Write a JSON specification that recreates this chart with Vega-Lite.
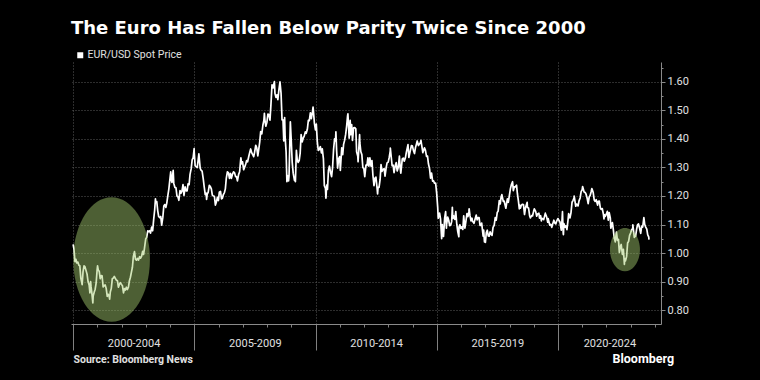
{
  "$schema": "https://vega.github.io/schema/vega-lite/v6.json",
  "width": 590,
  "height": 262,
  "autosize": {"type": "none"},
  "padding": {"left": 71, "top": 62, "right": 99, "bottom": 56},
  "background": "#000000",
  "config": {"view": {"stroke": null}},
  "title": {"text": "The Euro Has Fallen Below Parity Twice Since 2000", "anchor": "start", "frame": "group", "font": "DejaVu Sans", "fontSize": 18, "fontWeight": "bold", "color": "#ffffff", "offset": 12},
  "datasets": {
    "fx": [
      {"date":"2000-01-03","value":1.030},{"date":"2000-01-15","value":1.015},{"date":"2000-01-31","value":0.970},
      {"date":"2000-02-14","value":0.978},{"date":"2000-02-28","value":0.965},
      {"date":"2000-03-15","value":0.968},{"date":"2000-03-30","value":0.957},
      {"date":"2000-04-13","value":0.955},{"date":"2000-04-28","value":0.912},
      {"date":"2000-05-18","value":0.889},{"date":"2000-05-31","value":0.934},
      {"date":"2000-06-15","value":0.955},{"date":"2000-06-29","value":0.952},
      {"date":"2000-07-14","value":0.940},{"date":"2000-07-31","value":0.926},
      {"date":"2000-08-15","value":0.900},{"date":"2000-08-31","value":0.888},
      {"date":"2000-09-12","value":0.860},{"date":"2000-09-22","value":0.900},{"date":"2000-09-29","value":0.882},
      {"date":"2000-10-13","value":0.856},{"date":"2000-10-26","value":0.825},{"date":"2000-10-31","value":0.849},
      {"date":"2000-11-15","value":0.862},{"date":"2000-11-30","value":0.873},
      {"date":"2000-12-15","value":0.895},{"date":"2000-12-29","value":0.939},
      {"date":"2001-01-05","value":0.955},{"date":"2001-01-15","value":0.941},{"date":"2001-01-31","value":0.935},
      {"date":"2001-02-14","value":0.910},{"date":"2001-02-28","value":0.921},
      {"date":"2001-03-14","value":0.920},{"date":"2001-03-30","value":0.881},
      {"date":"2001-04-13","value":0.885},{"date":"2001-04-30","value":0.888},
      {"date":"2001-05-15","value":0.876},{"date":"2001-05-31","value":0.848},
      {"date":"2001-06-15","value":0.855},{"date":"2001-06-29","value":0.848},
      {"date":"2001-07-06","value":0.838},{"date":"2001-07-16","value":0.863},{"date":"2001-07-31","value":0.876},
      {"date":"2001-08-15","value":0.910},{"date":"2001-08-31","value":0.912},
      {"date":"2001-09-14","value":0.918},{"date":"2001-09-28","value":0.912},
      {"date":"2001-10-15","value":0.905},{"date":"2001-10-31","value":0.903},
      {"date":"2001-11-15","value":0.880},{"date":"2001-11-30","value":0.890},
      {"date":"2001-12-14","value":0.896},{"date":"2001-12-31","value":0.890},
      {"date":"2002-01-15","value":0.885},{"date":"2002-01-31","value":0.860},
      {"date":"2002-02-15","value":0.875},{"date":"2002-02-28","value":0.870},
      {"date":"2002-03-15","value":0.880},{"date":"2002-03-29","value":0.872},
      {"date":"2002-04-15","value":0.880},{"date":"2002-04-30","value":0.903},
      {"date":"2002-05-15","value":0.915},{"date":"2002-05-31","value":0.934},
      {"date":"2002-06-14","value":0.950},{"date":"2002-06-28","value":0.987},
      {"date":"2002-07-15","value":1.005},{"date":"2002-07-31","value":0.978},
      {"date":"2002-08-15","value":0.975},{"date":"2002-08-30","value":0.981},
      {"date":"2002-09-13","value":0.975},{"date":"2002-09-30","value":0.987},
      {"date":"2002-10-15","value":0.982},{"date":"2002-10-31","value":0.989},
      {"date":"2002-11-15","value":1.006},{"date":"2002-11-29","value":0.995},
      {"date":"2002-12-13","value":1.017},{"date":"2002-12-31","value":1.049},
      {"date":"2003-01-15","value":1.055},{"date":"2003-01-31","value":1.078},
      {"date":"2003-02-14","value":1.075},{"date":"2003-02-28","value":1.078},
      {"date":"2003-03-14","value":1.070},{"date":"2003-03-31","value":1.091},
      {"date":"2003-04-15","value":1.078},{"date":"2003-04-30","value":1.117},
      {"date":"2003-05-15","value":1.150},{"date":"2003-05-27","value":1.190},{"date":"2003-05-30","value":1.181},
      {"date":"2003-06-16","value":1.180},{"date":"2003-06-30","value":1.149},
      {"date":"2003-07-15","value":1.128},{"date":"2003-07-31","value":1.124},
      {"date":"2003-08-15","value":1.128},{"date":"2003-08-29","value":1.098},
      {"date":"2003-09-15","value":1.125},{"date":"2003-09-30","value":1.165},
      {"date":"2003-10-15","value":1.170},{"date":"2003-10-31","value":1.160},
      {"date":"2003-11-14","value":1.175},{"date":"2003-11-28","value":1.199},
      {"date":"2003-12-15","value":1.225},{"date":"2003-12-31","value":1.259},
      {"date":"2004-01-12","value":1.285},{"date":"2004-01-23","value":1.255},{"date":"2004-01-30","value":1.248},
      {"date":"2004-02-18","value":1.290},{"date":"2004-02-27","value":1.245},
      {"date":"2004-03-15","value":1.230},{"date":"2004-03-31","value":1.229},
      {"date":"2004-04-15","value":1.200},{"date":"2004-04-30","value":1.197},
      {"date":"2004-05-14","value":1.185},{"date":"2004-05-31","value":1.219},
      {"date":"2004-06-15","value":1.210},{"date":"2004-06-30","value":1.218},
      {"date":"2004-07-15","value":1.240},{"date":"2004-07-30","value":1.202},
      {"date":"2004-08-16","value":1.232},{"date":"2004-08-31","value":1.218},
      {"date":"2004-09-15","value":1.218},{"date":"2004-09-30","value":1.243},
      {"date":"2004-10-15","value":1.240},{"date":"2004-10-29","value":1.276},
      {"date":"2004-11-15","value":1.295},{"date":"2004-11-30","value":1.327},
      {"date":"2004-12-15","value":1.335},{"date":"2004-12-30","value":1.366},{"date":"2004-12-31","value":1.356},
      {"date":"2005-01-14","value":1.306},{"date":"2005-01-31","value":1.303},
      {"date":"2005-02-15","value":1.300},{"date":"2005-02-28","value":1.325},
      {"date":"2005-03-11","value":1.348},{"date":"2005-03-31","value":1.297},
      {"date":"2005-04-15","value":1.290},{"date":"2005-04-29","value":1.287},
      {"date":"2005-05-16","value":1.260},{"date":"2005-05-31","value":1.231},
      {"date":"2005-06-15","value":1.205},{"date":"2005-06-30","value":1.210},
      {"date":"2005-07-05","value":1.188},{"date":"2005-07-15","value":1.207},{"date":"2005-07-29","value":1.213},
      {"date":"2005-08-15","value":1.237},{"date":"2005-08-31","value":1.233},
      {"date":"2005-09-15","value":1.225},{"date":"2005-09-30","value":1.203},
      {"date":"2005-10-14","value":1.200},{"date":"2005-10-31","value":1.199},
      {"date":"2005-11-15","value":1.168},{"date":"2005-11-30","value":1.179},
      {"date":"2005-12-15","value":1.195},{"date":"2005-12-30","value":1.184},
      {"date":"2006-01-13","value":1.213},{"date":"2006-01-31","value":1.216},
      {"date":"2006-02-15","value":1.190},{"date":"2006-02-28","value":1.192},
      {"date":"2006-03-15","value":1.205},{"date":"2006-03-31","value":1.212},
      {"date":"2006-04-14","value":1.225},{"date":"2006-04-28","value":1.262},
      {"date":"2006-05-15","value":1.285},{"date":"2006-05-31","value":1.281},
      {"date":"2006-06-15","value":1.262},{"date":"2006-06-30","value":1.279},
      {"date":"2006-07-14","value":1.262},{"date":"2006-07-31","value":1.277},
      {"date":"2006-08-15","value":1.285},{"date":"2006-08-31","value":1.281},
      {"date":"2006-09-15","value":1.268},{"date":"2006-09-29","value":1.268},
      {"date":"2006-10-13","value":1.253},{"date":"2006-10-31","value":1.276},
      {"date":"2006-11-15","value":1.285},{"date":"2006-11-30","value":1.325},
      {"date":"2006-12-04","value":1.334},{"date":"2006-12-15","value":1.313},{"date":"2006-12-29","value":1.320},
      {"date":"2007-01-15","value":1.292},{"date":"2007-01-31","value":1.302},
      {"date":"2007-02-15","value":1.312},{"date":"2007-02-28","value":1.324},
      {"date":"2007-03-15","value":1.320},{"date":"2007-03-30","value":1.336},
      {"date":"2007-04-16","value":1.353},{"date":"2007-04-30","value":1.365},
      {"date":"2007-05-15","value":1.352},{"date":"2007-05-31","value":1.345},
      {"date":"2007-06-15","value":1.338},{"date":"2007-06-29","value":1.354},
      {"date":"2007-07-16","value":1.378},{"date":"2007-07-31","value":1.369},
      {"date":"2007-08-16","value":1.341},{"date":"2007-08-31","value":1.365},
      {"date":"2007-09-14","value":1.390},{"date":"2007-09-28","value":1.426},
      {"date":"2007-10-15","value":1.418},{"date":"2007-10-31","value":1.448},
      {"date":"2007-11-15","value":1.465},{"date":"2007-11-23","value":1.490},{"date":"2007-11-30","value":1.468},
      {"date":"2007-12-14","value":1.445},{"date":"2007-12-31","value":1.459},
      {"date":"2008-01-15","value":1.487},{"date":"2008-01-31","value":1.486},
      {"date":"2008-02-15","value":1.466},{"date":"2008-02-29","value":1.518},
      {"date":"2008-03-17","value":1.590},{"date":"2008-03-31","value":1.579},
      {"date":"2008-04-22","value":1.601},{"date":"2008-04-30","value":1.560},
      {"date":"2008-05-15","value":1.546},{"date":"2008-05-30","value":1.555},
      {"date":"2008-06-13","value":1.538},{"date":"2008-06-30","value":1.575},
      {"date":"2008-07-15","value":1.600},{"date":"2008-07-31","value":1.560},
      {"date":"2008-08-15","value":1.467},{"date":"2008-08-29","value":1.467},
      {"date":"2008-09-10","value":1.393},{"date":"2008-09-23","value":1.475},{"date":"2008-09-30","value":1.409},
      {"date":"2008-10-15","value":1.355},{"date":"2008-10-27","value":1.250},{"date":"2008-10-31","value":1.272},
      {"date":"2008-11-14","value":1.270},{"date":"2008-11-21","value":1.253},{"date":"2008-11-28","value":1.270},
      {"date":"2008-12-18","value":1.460},{"date":"2008-12-31","value":1.397},
      {"date":"2009-01-15","value":1.318},{"date":"2009-01-30","value":1.280},
      {"date":"2009-02-18","value":1.255},{"date":"2009-02-27","value":1.266},
      {"date":"2009-03-04","value":1.250},{"date":"2009-03-19","value":1.360},{"date":"2009-03-31","value":1.328},
      {"date":"2009-04-15","value":1.318},{"date":"2009-04-30","value":1.324},
      {"date":"2009-05-15","value":1.350},{"date":"2009-05-29","value":1.415},
      {"date":"2009-06-15","value":1.390},{"date":"2009-06-30","value":1.403},
      {"date":"2009-07-15","value":1.410},{"date":"2009-07-31","value":1.425},
      {"date":"2009-08-14","value":1.420},{"date":"2009-08-31","value":1.434},
      {"date":"2009-09-15","value":1.465},{"date":"2009-09-30","value":1.464},
      {"date":"2009-10-15","value":1.492},{"date":"2009-10-30","value":1.471},
      {"date":"2009-11-16","value":1.495},{"date":"2009-11-25","value":1.512},{"date":"2009-11-30","value":1.500},
      {"date":"2009-12-15","value":1.456},{"date":"2009-12-31","value":1.432},
      {"date":"2010-01-13","value":1.452},{"date":"2010-01-29","value":1.387},
      {"date":"2010-02-12","value":1.360},{"date":"2010-02-26","value":1.363},
      {"date":"2010-03-15","value":1.373},{"date":"2010-03-31","value":1.351},
      {"date":"2010-04-13","value":1.365},{"date":"2010-04-30","value":1.330},
      {"date":"2010-05-14","value":1.236},{"date":"2010-05-31","value":1.227},
      {"date":"2010-06-07","value":1.192},{"date":"2010-06-18","value":1.238},{"date":"2010-06-30","value":1.223},
      {"date":"2010-07-15","value":1.290},{"date":"2010-07-30","value":1.305},
      {"date":"2010-08-16","value":1.282},{"date":"2010-08-31","value":1.268},
      {"date":"2010-09-15","value":1.300},{"date":"2010-09-30","value":1.363},
      {"date":"2010-10-15","value":1.400},{"date":"2010-10-29","value":1.393},
      {"date":"2010-11-04","value":1.425},{"date":"2010-11-15","value":1.360},{"date":"2010-11-30","value":1.298},
      {"date":"2010-12-15","value":1.330},{"date":"2010-12-31","value":1.338},
      {"date":"2011-01-10","value":1.290},{"date":"2011-01-31","value":1.369},
      {"date":"2011-02-15","value":1.345},{"date":"2011-02-28","value":1.381},
      {"date":"2011-03-15","value":1.395},{"date":"2011-03-31","value":1.416},
      {"date":"2011-04-15","value":1.445},{"date":"2011-04-29","value":1.481},
      {"date":"2011-05-04","value":1.488},{"date":"2011-05-23","value":1.403},{"date":"2011-05-31","value":1.438},
      {"date":"2011-06-07","value":1.465},{"date":"2011-06-16","value":1.415},{"date":"2011-06-30","value":1.450},
      {"date":"2011-07-12","value":1.395},{"date":"2011-07-29","value":1.439},
      {"date":"2011-08-15","value":1.440},{"date":"2011-08-31","value":1.436},
      {"date":"2011-09-12","value":1.355},{"date":"2011-09-30","value":1.339},
      {"date":"2011-10-04","value":1.320},{"date":"2011-10-27","value":1.415},{"date":"2011-10-31","value":1.386},
      {"date":"2011-11-15","value":1.355},{"date":"2011-11-30","value":1.345},
      {"date":"2011-12-15","value":1.300},{"date":"2011-12-30","value":1.296},
      {"date":"2012-01-13","value":1.268},{"date":"2012-01-31","value":1.308},
      {"date":"2012-02-15","value":1.307},{"date":"2012-02-29","value":1.334},
      {"date":"2012-03-15","value":1.305},{"date":"2012-03-30","value":1.334},
      {"date":"2012-04-16","value":1.305},{"date":"2012-04-30","value":1.324},
      {"date":"2012-05-15","value":1.272},{"date":"2012-05-31","value":1.236},
      {"date":"2012-06-15","value":1.263},{"date":"2012-06-29","value":1.266},
      {"date":"2012-07-16","value":1.228},{"date":"2012-07-24","value":1.207},{"date":"2012-07-31","value":1.230},
      {"date":"2012-08-15","value":1.230},{"date":"2012-08-31","value":1.258},
      {"date":"2012-09-14","value":1.310},{"date":"2012-09-28","value":1.286},
      {"date":"2012-10-15","value":1.294},{"date":"2012-10-31","value":1.296},
      {"date":"2012-11-13","value":1.270},{"date":"2012-11-30","value":1.299},
      {"date":"2012-12-14","value":1.316},{"date":"2012-12-31","value":1.319},
      {"date":"2013-01-15","value":1.335},{"date":"2013-01-31","value":1.358},
      {"date":"2013-02-01","value":1.368},{"date":"2013-02-15","value":1.336},{"date":"2013-02-28","value":1.306},
      {"date":"2013-03-15","value":1.308},{"date":"2013-03-29","value":1.282},
      {"date":"2013-04-15","value":1.306},{"date":"2013-04-30","value":1.317},
      {"date":"2013-05-15","value":1.288},{"date":"2013-05-31","value":1.300},
      {"date":"2013-06-18","value":1.340},{"date":"2013-06-28","value":1.301},
      {"date":"2013-07-09","value":1.280},{"date":"2013-07-31","value":1.330},
      {"date":"2013-08-15","value":1.333},{"date":"2013-08-30","value":1.322},
      {"date":"2013-09-16","value":1.334},{"date":"2013-09-30","value":1.353},
      {"date":"2013-10-25","value":1.380},{"date":"2013-10-31","value":1.358},
      {"date":"2013-11-07","value":1.335},{"date":"2013-11-29","value":1.359},
      {"date":"2013-12-16","value":1.377},{"date":"2013-12-31","value":1.375},
      {"date":"2014-01-15","value":1.360},{"date":"2014-01-31","value":1.349},
      {"date":"2014-02-14","value":1.369},{"date":"2014-02-28","value":1.381},
      {"date":"2014-03-13","value":1.393},{"date":"2014-03-31","value":1.377},
      {"date":"2014-04-15","value":1.382},{"date":"2014-04-30","value":1.387},
      {"date":"2014-05-08","value":1.395},{"date":"2014-05-30","value":1.363},
      {"date":"2014-06-05","value":1.352},{"date":"2014-06-30","value":1.369},
      {"date":"2014-07-15","value":1.360},{"date":"2014-07-31","value":1.339},
      {"date":"2014-08-15","value":1.340},{"date":"2014-08-29","value":1.313},
      {"date":"2014-09-15","value":1.295},{"date":"2014-09-30","value":1.263},
      {"date":"2014-10-15","value":1.280},{"date":"2014-10-31","value":1.252},
      {"date":"2014-11-14","value":1.253},{"date":"2014-11-28","value":1.245},
      {"date":"2014-12-15","value":1.245},{"date":"2014-12-31","value":1.210},
      {"date":"2015-01-15","value":1.162},{"date":"2015-01-23","value":1.122},{"date":"2015-01-30","value":1.129},
      {"date":"2015-02-13","value":1.140},{"date":"2015-02-27","value":1.120},
      {"date":"2015-03-16","value":1.050},{"date":"2015-03-26","value":1.100},{"date":"2015-03-31","value":1.073},
      {"date":"2015-04-13","value":1.058},{"date":"2015-04-30","value":1.122},
      {"date":"2015-05-15","value":1.145},{"date":"2015-05-27","value":1.087},{"date":"2015-05-29","value":1.099},
      {"date":"2015-06-15","value":1.126},{"date":"2015-06-30","value":1.115},
      {"date":"2015-07-15","value":1.096},{"date":"2015-07-31","value":1.098},
      {"date":"2015-08-14","value":1.110},{"date":"2015-08-24","value":1.160},{"date":"2015-08-31","value":1.121},
      {"date":"2015-09-15","value":1.130},{"date":"2015-09-30","value":1.118},
      {"date":"2015-10-15","value":1.145},{"date":"2015-10-30","value":1.101},
      {"date":"2015-11-13","value":1.076},{"date":"2015-11-30","value":1.057},
      {"date":"2015-12-03","value":1.092},{"date":"2015-12-15","value":1.099},{"date":"2015-12-31","value":1.086},
      {"date":"2016-01-15","value":1.092},{"date":"2016-01-29","value":1.083},
      {"date":"2016-02-11","value":1.130},{"date":"2016-02-29","value":1.087},
      {"date":"2016-03-15","value":1.110},{"date":"2016-03-31","value":1.138},
      {"date":"2016-04-15","value":1.128},{"date":"2016-04-29","value":1.145},
      {"date":"2016-05-03","value":1.155},{"date":"2016-05-16","value":1.131},{"date":"2016-05-31","value":1.113},
      {"date":"2016-06-15","value":1.122},{"date":"2016-06-24","value":1.110},{"date":"2016-06-30","value":1.110},
      {"date":"2016-07-15","value":1.104},{"date":"2016-07-29","value":1.117},
      {"date":"2016-08-18","value":1.133},{"date":"2016-08-31","value":1.116},
      {"date":"2016-09-15","value":1.124},{"date":"2016-09-30","value":1.124},
      {"date":"2016-10-14","value":1.097},{"date":"2016-10-31","value":1.098},
      {"date":"2016-11-08","value":1.105},{"date":"2016-11-30","value":1.059},
      {"date":"2016-12-08","value":1.080},{"date":"2016-12-20","value":1.039},{"date":"2016-12-30","value":1.052},
      {"date":"2017-01-03","value":1.037},{"date":"2017-01-17","value":1.072},{"date":"2017-01-31","value":1.080},
      {"date":"2017-02-15","value":1.060},{"date":"2017-02-28","value":1.059},
      {"date":"2017-03-15","value":1.074},{"date":"2017-03-31","value":1.065},
      {"date":"2017-04-13","value":1.062},{"date":"2017-04-28","value":1.090},
      {"date":"2017-05-15","value":1.097},{"date":"2017-05-31","value":1.124},
      {"date":"2017-06-15","value":1.115},{"date":"2017-06-30","value":1.142},
      {"date":"2017-07-14","value":1.147},{"date":"2017-07-31","value":1.184},
      {"date":"2017-08-15","value":1.172},{"date":"2017-08-29","value":1.200},{"date":"2017-08-31","value":1.191},
      {"date":"2017-09-08","value":1.205},{"date":"2017-09-29","value":1.181},
      {"date":"2017-10-13","value":1.182},{"date":"2017-10-31","value":1.164},
      {"date":"2017-11-07","value":1.157},{"date":"2017-11-30","value":1.190},
      {"date":"2017-12-14","value":1.178},{"date":"2017-12-29","value":1.200},
      {"date":"2018-01-15","value":1.226},{"date":"2018-01-31","value":1.241},
      {"date":"2018-02-16","value":1.250},{"date":"2018-02-28","value":1.219},
      {"date":"2018-03-15","value":1.232},{"date":"2018-03-29","value":1.232},
      {"date":"2018-04-17","value":1.238},{"date":"2018-04-30","value":1.208},
      {"date":"2018-05-15","value":1.183},{"date":"2018-05-29","value":1.155},{"date":"2018-05-31","value":1.169},
      {"date":"2018-06-14","value":1.157},{"date":"2018-06-29","value":1.168},
      {"date":"2018-07-16","value":1.171},{"date":"2018-07-31","value":1.169},
      {"date":"2018-08-15","value":1.135},{"date":"2018-08-31","value":1.160},
      {"date":"2018-09-24","value":1.178},{"date":"2018-09-28","value":1.160},
      {"date":"2018-10-15","value":1.158},{"date":"2018-10-31","value":1.131},
      {"date":"2018-11-12","value":1.123},{"date":"2018-11-30","value":1.131},
      {"date":"2018-12-14","value":1.130},{"date":"2018-12-31","value":1.147},
      {"date":"2019-01-10","value":1.155},{"date":"2019-01-31","value":1.145},
      {"date":"2019-02-15","value":1.129},{"date":"2019-02-28","value":1.137},
      {"date":"2019-03-20","value":1.140},{"date":"2019-03-29","value":1.122},
      {"date":"2019-04-15","value":1.131},{"date":"2019-04-26","value":1.113},{"date":"2019-04-30","value":1.122},
      {"date":"2019-05-15","value":1.120},{"date":"2019-05-31","value":1.117},
      {"date":"2019-06-25","value":1.140},{"date":"2019-06-28","value":1.137},
      {"date":"2019-07-15","value":1.126},{"date":"2019-07-31","value":1.108},
      {"date":"2019-08-06","value":1.121},{"date":"2019-08-30","value":1.098},
      {"date":"2019-09-16","value":1.100},{"date":"2019-09-30","value":1.090},
      {"date":"2019-10-15","value":1.103},{"date":"2019-10-31","value":1.115},
      {"date":"2019-11-15","value":1.105},{"date":"2019-11-29","value":1.102},
      {"date":"2019-12-13","value":1.112},{"date":"2019-12-31","value":1.121},
      {"date":"2020-01-15","value":1.115},{"date":"2020-01-31","value":1.109},
      {"date":"2020-02-20","value":1.080},{"date":"2020-02-28","value":1.103},
      {"date":"2020-03-09","value":1.145},{"date":"2020-03-20","value":1.070},{"date":"2020-03-23","value":1.064},{"date":"2020-03-31","value":1.103},
      {"date":"2020-04-15","value":1.091},{"date":"2020-04-30","value":1.095},
      {"date":"2020-05-15","value":1.082},{"date":"2020-05-29","value":1.110},
      {"date":"2020-06-10","value":1.138},{"date":"2020-06-30","value":1.123},
      {"date":"2020-07-15","value":1.141},{"date":"2020-07-31","value":1.178},
      {"date":"2020-08-14","value":1.184},{"date":"2020-08-31","value":1.194},
      {"date":"2020-09-01","value":1.200},{"date":"2020-09-25","value":1.164},{"date":"2020-09-30","value":1.172},
      {"date":"2020-10-15","value":1.171},{"date":"2020-10-30","value":1.165},
      {"date":"2020-11-13","value":1.183},{"date":"2020-11-30","value":1.193},
      {"date":"2020-12-15","value":1.215},{"date":"2020-12-31","value":1.222},
      {"date":"2021-01-06","value":1.233},{"date":"2021-01-29","value":1.214},
      {"date":"2021-02-15","value":1.212},{"date":"2021-02-26","value":1.207},
      {"date":"2021-03-15","value":1.193},{"date":"2021-03-31","value":1.173},
      {"date":"2021-04-15","value":1.196},{"date":"2021-04-30","value":1.202},
      {"date":"2021-05-14","value":1.214},{"date":"2021-05-25","value":1.226},{"date":"2021-05-31","value":1.223},
      {"date":"2021-06-15","value":1.212},{"date":"2021-06-30","value":1.186},
      {"date":"2021-07-15","value":1.181},{"date":"2021-07-30","value":1.187},
      {"date":"2021-08-20","value":1.168},{"date":"2021-08-31","value":1.181},
      {"date":"2021-09-15","value":1.182},{"date":"2021-09-30","value":1.158},
      {"date":"2021-10-12","value":1.153},{"date":"2021-10-29","value":1.156},
      {"date":"2021-11-15","value":1.137},{"date":"2021-11-24","value":1.120},{"date":"2021-11-30","value":1.134},
      {"date":"2021-12-15","value":1.129},{"date":"2021-12-31","value":1.137},
      {"date":"2022-01-14","value":1.146},{"date":"2022-01-28","value":1.115},{"date":"2022-01-31","value":1.123},
      {"date":"2022-02-10","value":1.142},{"date":"2022-02-28","value":1.122},
      {"date":"2022-03-07","value":1.087},{"date":"2022-03-31","value":1.107},
      {"date":"2022-04-14","value":1.082},{"date":"2022-04-28","value":1.050},{"date":"2022-04-29","value":1.054},
      {"date":"2022-05-13","value":1.039},{"date":"2022-05-31","value":1.073},
      {"date":"2022-06-15","value":1.044},{"date":"2022-06-30","value":1.048},
      {"date":"2022-07-14","value":1.002},{"date":"2022-07-29","value":1.022},
      {"date":"2022-08-10","value":1.030},{"date":"2022-08-29","value":0.995},{"date":"2022-08-31","value":1.005},
      {"date":"2022-09-12","value":1.013},{"date":"2022-09-28","value":0.960},{"date":"2022-09-30","value":0.980},
      {"date":"2022-10-13","value":0.972},{"date":"2022-10-31","value":0.988},
      {"date":"2022-11-15","value":1.035},{"date":"2022-11-30","value":1.041},
      {"date":"2022-12-15","value":1.062},{"date":"2022-12-30","value":1.070},
      {"date":"2023-01-16","value":1.082},{"date":"2023-01-31","value":1.086},
      {"date":"2023-02-02","value":1.099},{"date":"2023-02-24","value":1.055},{"date":"2023-02-28","value":1.058},
      {"date":"2023-03-15","value":1.058},{"date":"2023-03-31","value":1.084},
      {"date":"2023-04-14","value":1.099},{"date":"2023-04-28","value":1.102},
      {"date":"2023-05-15","value":1.087},{"date":"2023-05-31","value":1.069},
      {"date":"2023-06-15","value":1.094},{"date":"2023-06-30","value":1.091},
      {"date":"2023-07-18","value":1.124},{"date":"2023-07-31","value":1.100},
      {"date":"2023-08-15","value":1.091},{"date":"2023-08-31","value":1.084},
      {"date":"2023-09-14","value":1.064},{"date":"2023-09-29","value":1.057},
      {"date":"2023-10-03","value":1.047}
    ]
  },
  "encoding": {
    "x": {
      "field": "date",
      "type": "temporal",
      "scale": {"type": "utc", "domain": [{"year": 1999, "month": 12, "date": 2, "utc": true}, {"year": 2024, "month": 4, "date": 1, "utc": true}]},
      "axis": {
        "values": [
          {"year": 2000, "month": 1, "date": 1, "utc": true}, {"year": 2001, "month": 1, "date": 1, "utc": true}, {"year": 2002, "month": 1, "date": 1, "utc": true}, {"year": 2003, "month": 1, "date": 1, "utc": true}, {"year": 2004, "month": 1, "date": 1, "utc": true},
          {"year": 2005, "month": 1, "date": 1, "utc": true}, {"year": 2006, "month": 1, "date": 1, "utc": true}, {"year": 2007, "month": 1, "date": 1, "utc": true}, {"year": 2008, "month": 1, "date": 1, "utc": true}, {"year": 2009, "month": 1, "date": 1, "utc": true},
          {"year": 2010, "month": 1, "date": 1, "utc": true}, {"year": 2011, "month": 1, "date": 1, "utc": true}, {"year": 2012, "month": 1, "date": 1, "utc": true}, {"year": 2013, "month": 1, "date": 1, "utc": true}, {"year": 2014, "month": 1, "date": 1, "utc": true},
          {"year": 2015, "month": 1, "date": 1, "utc": true}, {"year": 2016, "month": 1, "date": 1, "utc": true}, {"year": 2017, "month": 1, "date": 1, "utc": true}, {"year": 2018, "month": 1, "date": 1, "utc": true}, {"year": 2019, "month": 1, "date": 1, "utc": true},
          {"year": 2020, "month": 1, "date": 1, "utc": true}, {"year": 2021, "month": 1, "date": 1, "utc": true}, {"year": 2022, "month": 1, "date": 1, "utc": true}, {"year": 2023, "month": 1, "date": 1, "utc": true}, {"year": 2024, "month": 1, "date": 1, "utc": true},
          {"year": 2002, "month": 7, "date": 2, "utc": true}, {"year": 2007, "month": 7, "date": 2, "utc": true}, {"year": 2012, "month": 7, "date": 2, "utc": true}, {"year": 2017, "month": 7, "date": 2, "utc": true}, {"year": 2022, "month": 2, "date": 14, "utc": true}
        ],
        "labelExpr": "utcdate(datum.value) == 1 ? '' : (floor(utcyear(datum.value) / 5) * 5) + '-' + (floor(utcyear(datum.value) / 5) * 5 + 4)",
        "tickSize": {"condition": {"test": "utcdate(datum.value) == 1 && utcmonth(datum.value) == 0 && utcyear(datum.value) % 5 == 0", "value": 26}, "value": 3},
        "tickOpacity": {"condition": {"test": "utcdate(datum.value) != 1", "value": 0}, "value": 1},
        "tickColor": "#808080",
        "grid": true,
        "gridOpacity": {"condition": {"test": "utcdate(datum.value) == 1 && utcmonth(datum.value) == 0 && utcyear(datum.value) % 5 == 0", "value": 1}, "value": 0},
        "gridColor": "#5a5a5a",
        "gridDash": [1, 2],
        "domainColor": "#8a8a8a",
        "labelColor": "#e0e0e0",
        "labelFont": "Roboto",
        "labelFontSize": 11,
        "labelPadding": 10,
        "labelBaseline": "top",
        "labelFlush": false,
        "labelOverlap": false,
        "labelBound": false,
        "title": "Source: Bloomberg News",
        "titleFont": "Roboto",
        "titleFontSize": 10.5,
        "titleFontWeight": "bold",
        "titleColor": "#e0e0e0",
        "titleAnchor": "start",
        "titleAlign": "left",
        "titleBaseline": "alphabetic",
        "titleX": 2,
        "titleY": 38
      }
    },
    "y": {
      "field": "value",
      "type": "quantitative",
      "scale": {"domain": [0.751, 1.67], "zero": false, "nice": false},
      "axis": {
        "orient": "right",
        "values": [0.8, 0.85, 0.9, 0.95, 1.0, 1.05, 1.1, 1.15, 1.2, 1.25, 1.3, 1.35, 1.4, 1.45, 1.5, 1.55, 1.6, 1.65],
        "labelExpr": "round(datum.value * 100) % 10 == 0 ? format(datum.value, '.2f') : ''",
        "tickSize": {"condition": {"test": "round(datum.value * 100) % 10 == 0", "value": 4}, "value": 2},
        "grid": true,
        "gridOpacity": {"condition": {"test": "round(datum.value * 100) % 10 == 0", "value": 1}, "value": 0},
        "gridColor": "#5a5a5a",
        "gridDash": [1, 2],
        "tickColor": "#8a8a8a",
        "domainColor": "#8a8a8a",
        "labelColor": "#e0e0e0",
        "labelFont": "Roboto",
        "labelFontSize": 11,
        "labelPadding": 2,
        "title": "Bloomberg",
        "titleAngle": 0,
        "titleAlign": "left",
        "titleBaseline": "alphabetic",
        "titleX": -49,
        "titleY": 300,
        "titleFont": "Roboto",
        "titleFontSize": 12.5,
        "titleFontWeight": "bold",
        "titleColor": "#ffffff"
      }
    }
  },
  "layer": [
    {
      "data": {"name": "fx"},
      "mark": {"type": "line", "strokeWidth": 1.7, "strokeJoin": "round"},
      "encoding": {
        "color": {
          "datum": "EUR/USD Spot Price",
          "scale": {"range": ["#ffffff"]},
          "legend": {
            "orient": "none",
            "legendX": 4,
            "legendY": -12,
            "title": null,
            "padding": 0,
            "symbolType": "square",
            "symbolSize": 36,
            "symbolStrokeWidth": 0,
            "labelColor": "#e0e0e0",
            "labelFont": "Roboto",
            "labelFontSize": 10.5,
            "labelOffset": 2,
            "encode": {"symbols": {"update": {"fill": {"value": "#ffffff"}, "strokeWidth": {"value": 0}}}}
          }
        }
      }
    },
    {
      "data": {"values": [{"date": "2001-08-04", "value": 0.977}]},
      "mark": {"type": "point", "shape": "M0,-1C0.3405,-1,0.6166,-0.5523,0.6166,0C0.6166,0.5523,0.3405,1,0,1C-0.3405,1,-0.6166,0.5523,-0.6166,0C-0.6166,-0.5523,-0.3405,-1,0,-1Z", "size": 15475, "filled": true, "fill": "#a4c96e", "opacity": 0.47, "strokeWidth": 0}
    },
    {
      "data": {"values": [{"date": "2022-10-06", "value": 1.012}]},
      "mark": {"type": "point", "shape": "M0,-1C0.3817,-1,0.691,-0.5523,0.691,0C0.691,0.5523,0.3817,1,0,1C-0.3817,1,-0.691,0.5523,-0.691,0C-0.691,-0.5523,-0.3817,-1,0,-1Z", "size": 1884, "filled": true, "fill": "#a4c96e", "opacity": 0.47, "strokeWidth": 0}
    }
  ]
}
